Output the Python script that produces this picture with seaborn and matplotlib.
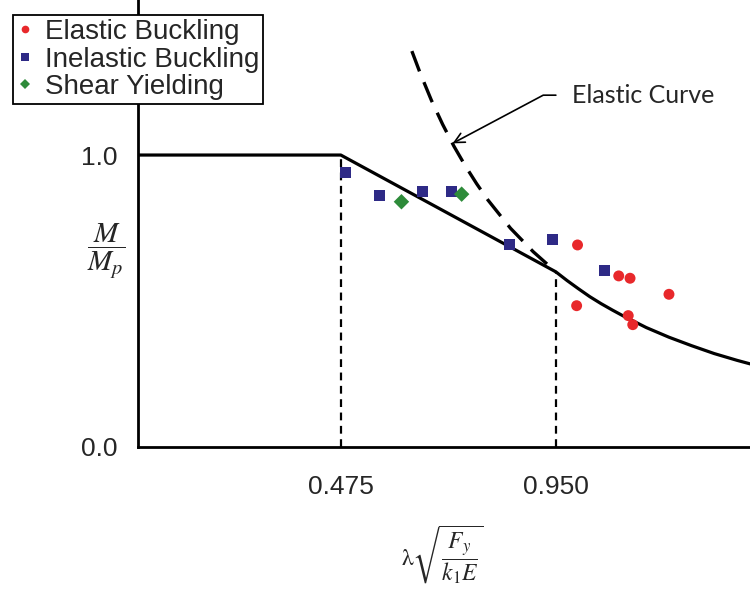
import pandas as pd
import matplotlib.pyplot as plt
import seaborn as sns

# test points
elastic_lam = [0.998, 0.996, 1.089, 1.114, 1.200, 1.110, 1.120]
elastic_val = [0.692, 0.484, 0.586, 0.578, 0.523, 0.450, 0.419]
inelastic_lam = [0.486, 0.561, 0.655, 0.720, 0.848, 0.943, 1.057]
inelastic_val = [0.939, 0.863, 0.874, 0.874, 0.694, 0.712, 0.604]
shear_lam = [0.609, 0.742]
shear_val = [0.840, 0.866]

# design curve (plateau, linear transition, elastic part)
curve_lam = [0.0, 0.475, 0.95, 0.975, 1.0, 1.025, 1.05, 1.075, 1.10, 1.15,
             1.20, 1.25, 1.30, 1.35, 1.40]
curve_val = [1.0, 1.0, 0.600, 0.570, 0.542, 0.515, 0.491, 0.469, 0.448, 0.409,
             0.376, 0.347, 0.320, 0.297, 0.276]

# elastic curve continued above the transition (dashed)
ext_lam = [0.632, 0.65, 0.675, 0.70, 0.725, 0.75, 0.775, 0.80, 0.85, 0.90, 0.95]
ext_val = [1.356, 1.282, 1.188, 1.105, 1.030, 0.963, 0.902, 0.846, 0.749, 0.669, 0.600]

limits_lam = [0.475, 0.95]
limits_val = [1.0, 0.600]

kinds = ['Elastic Buckling', 'Inelastic Buckling', 'Shear Yielding']

df = pd.DataFrame({
    'lam': elastic_lam + inelastic_lam + shear_lam,
    'val': elastic_val + inelastic_val + shear_val,
    'kind': [kinds[0]] * len(elastic_lam) + [kinds[1]] * len(inelastic_lam)
            + [kinds[2]] * len(shear_lam),
})

sns.set_style("white")
plt.rcParams['font.family'] = ['Liberation Sans', 'DejaVu Sans']
plt.rcParams['mathtext.fontset'] = 'stix'

fig = plt.figure(figsize=(7.5, 6.13), dpi=100)
ax = fig.add_axes([138 / 750, 166 / 613, 612 / 750, 447 / 613])

ax.plot(curve_lam, curve_val, color='black', lw=2.3, solid_capstyle='butt', zorder=3)
ax.plot(ext_lam, ext_val, color='black', lw=2.4, dashes=(6.5, 3.5), zorder=3)
for lx, ly in zip(limits_lam, limits_val):
    ax.plot([lx, lx], [0, ly], color='black', lw=1.6, dashes=(3.5, 2.5), zorder=2)

sns.scatterplot(data=df, x='lam', y='val', hue='kind', style='kind',
                hue_order=kinds, style_order=kinds,
                palette={kinds[0]: '#E8282B', kinds[1]: '#2E2A86', kinds[2]: '#2E8B3A'},
                markers={kinds[0]: 'o', kinds[1]: 's', kinds[2]: 'D'},
                s=62, linewidth=0, ax=ax, zorder=4)

ax.set_xlim(0.027, 1.379)
ax.set_ylim(0, 1.531)
ax.set_xticks([0.475, 0.95])
ax.set_xticklabels(['0.475', '0.950'])
ax.set_yticks([0.0, 1.0])
ax.set_yticklabels(['0.0', '1.0'])
ax.tick_params(axis='x', length=0, pad=20, labelsize=19)
ax.tick_params(axis='y', length=7, width=2, direction='out', pad=8, labelsize=19, color='black')
ax.set_xlabel('')
ax.set_ylabel('')
for side in ['top', 'right']:
    ax.spines[side].set_visible(False)
for side in ['left', 'bottom']:
    ax.spines[side].set_color('black')
    ax.spines[side].set_linewidth(2)

ax.annotate('Elastic Curve', xy=(0.722, 1.040), xytext=(0.985, 1.205),
            fontsize=18, family='Lato', va='center', ha='left',
            arrowprops=dict(arrowstyle='->', color='black', lw=1.2,
                            connectionstyle='angle,angleA=0,angleB=28,rad=0',
                            relpos=(0, 0.5), shrinkA=9, shrinkB=0))

handles, labels = ax.get_legend_handles_labels()
leg = ax.legend(handles, labels, loc='upper left',
                bbox_to_anchor=(13 / 750, 1 - 15 / 613), bbox_transform=fig.transFigure,
                borderaxespad=0, fontsize=20, frameon=True, fancybox=False,
                edgecolor='black', framealpha=1, labelspacing=0.05,
                handlelength=0.6, handletextpad=0.4, borderpad=0.15, markerscale=0.7)
leg.get_frame().set_linewidth(1.3)

fig.text(106 / 750, 1 - 251 / 613, r'$\dfrac{M}{M_p}$', fontsize=21,
         ha='center', va='center')
fig.text(442 / 750, 1 - 555 / 613, r'$\mathrm{\lambda}\sqrt{\dfrac{F_y}{k_1E}}$',
         fontsize=17, ha='center', va='center')

plt.savefig('out.png', dpi=100)
